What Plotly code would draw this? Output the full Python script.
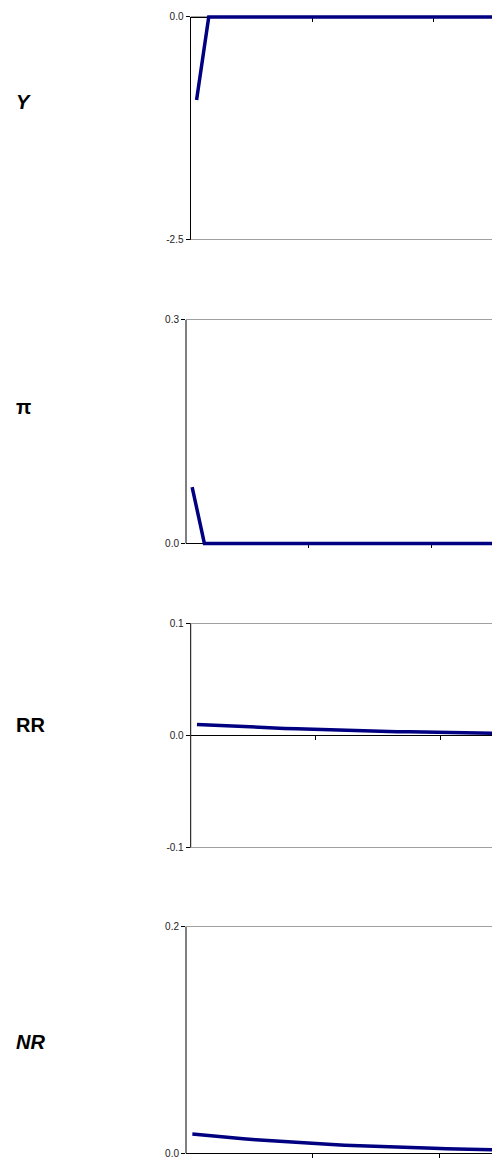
import plotly.graph_objects as go

# ---- data ----
periods = list(range(26))
y_vals = [-0.93] + [0.0] * 25
pi_vals = [0.0757] + [0.0] * 25
rr_vals = [0.0098, 0.0092, 0.0086, 0.0081, 0.0076, 0.0071, 0.0067, 0.0063,
           0.0059, 0.0055, 0.0052, 0.0049, 0.0046, 0.0043, 0.0040, 0.0037,
           0.0034, 0.0032, 0.0030, 0.0028, 0.0026, 0.0024, 0.0022, 0.0020,
           0.0018, 0.0017]
nr_vals = [0.0170, 0.0158, 0.0147, 0.0137, 0.0128, 0.0119, 0.0111, 0.0103,
           0.0096, 0.0089, 0.0083, 0.0078, 0.0072, 0.0067, 0.0063, 0.0058,
           0.0054, 0.0051, 0.0047, 0.0044, 0.0041, 0.0038, 0.0035, 0.0033,
           0.0031, 0.0029]

labels = ["<b><i>Y</i></b>", "<b>π</b>", "<b>RR</b>", "<b><i>NR</i></b>"]
series = [y_vals, pi_vals, rr_vals, nr_vals]
y_ranges = [[-2.5, 0.0], [0.0, 0.3], [-0.1, 0.1], [0.0, 0.2]]
y_ticks = [[-2.5, 0.0], [0.0, 0.3], [-0.1, 0.0, 0.1], [0.0, 0.2]]
x_ticks = [9.5, 19.5]

W, H = 492, 1163
PAD = 4  # px of breathing room so the thick line is not clipped at the edges
# pixel geometry of each panel: (left axis x, top y, bottom y, right x-range end)
panels = [
    (190.5, 15.0, 238.7, 24.3),
    (186.0, 319.0, 543.3, 24.46),
    (190.7, 623.3, 848.7, 23.6),
    (186.0, 927.7, 1155.3, 23.6),
]
label_y = [100, 406, 725, 1044]

FONT = "Liberation Sans, Arial, sans-serif"
NAVY = "#000080"
GRID = "#a0a0a0"

fig = go.Figure()
layout = dict(
    width=W, height=H,
    margin=dict(l=0, r=0, t=0, b=0),
    paper_bgcolor="white", plot_bgcolor="white",
    showlegend=False,
    font=dict(family=FONT, size=10, color="#222222"),
    annotations=[], shapes=[],
)

for i, (vals, lab, yr, yt, geo) in enumerate(zip(series, labels, y_ranges, y_ticks, panels)):
    left, top, bottom, xend = geo
    n = "" if i == 0 else str(i + 1)
    fig.add_trace(go.Scatter(
        x=periods, y=vals, mode="lines",
        line=dict(color=NAVY, width=3.5),
        xaxis="x" + n, yaxis="y" + n,
        hoverinfo="skip",
    ))
    lo, hi = yr
    unit = (hi - lo) / (bottom - top)
    ext = [lo - PAD * unit, hi + PAD * unit]
    ydom = [1 - (bottom + PAD) / H, 1 - (top - PAD) / H]
    xdom = [left / W, 1.0]
    zero_paper = 1 - (bottom - (0 - lo) / unit) / H
    layout["xaxis" + n] = dict(
        domain=xdom, range=[-0.5, xend],
        anchor="free", position=zero_paper, side="bottom",
        showgrid=False, zeroline=False,
        showline=True, linecolor="black", linewidth=1,
        tickvals=x_ticks, showticklabels=False,
        ticks="outside", ticklen=4, tickcolor="black", tickwidth=1,
        layer="below traces", fixedrange=True,
    )
    layout["yaxis" + n] = dict(
        domain=ydom, range=ext, anchor="x" + n,
        tickvals=yt, ticktext=[f"{v:.1f}" for v in yt],
        showgrid=True, gridcolor=GRID, gridwidth=1,
        zeroline=False, showline=False,
        ticks="outside", ticklen=4, tickcolor="black", tickwidth=1,
        tickfont=dict(family=FONT, size=10, color="#222222"),
        layer="below traces", fixedrange=True,
    )
    # vertical value-axis line spanning exactly the axis range
    layout["shapes"].append(dict(
        type="line", xref="x" + n + " domain", yref="y" + n,
        x0=0, x1=0, y0=lo, y1=hi,
        line=dict(color="black", width=1), layer="below",
    ))
    layout["annotations"].append(dict(
        text=lab, xref="paper", yref="paper",
        x=14 / W, y=1 - label_y[i] / H,
        xanchor="left", yanchor="middle", showarrow=False,
        font=dict(family=FONT, size=20, color="black"),
    ))

fig.update_layout(**layout)
fig.write_html("out.html", config={"displayModeBar": False},
               post_script="document.body.style.margin='0';")
